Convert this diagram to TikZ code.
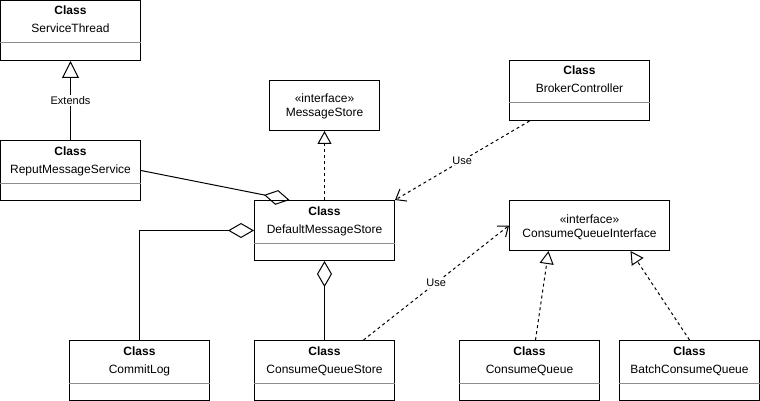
\documentclass[tikz,border=0pt]{standalone}
\usepackage{fontspec}
\setmainfont{Liberation Sans}
\usetikzlibrary{arrows.meta}
\tikzset{
	cls/.style={draw, line width=1pt, minimum width=140pt, minimum height=60pt, inner sep=0pt},
	iface/.style={draw, line width=1pt, minimum width=#1, minimum height=50pt, inner sep=0pt},
	iface/.default=110pt,
	txt/.style={anchor=base, inner sep=0pt, font=\fontsize{12pt}{14pt}\selectfont},
	sep/.style={black!45, line width=1pt},
	lbl/.style={fill=white, inner sep=1pt, font=\fontsize{11pt}{13pt}\selectfont},
	gen/.style={line width=1pt, -{Triangle[open, length=17pt, width=17pt]}},
	real/.style={line width=1pt, dash pattern=on 3pt off 3pt, -{Triangle[open, length=13pt, width=14pt]}},
	use/.style={line width=1pt, dash pattern=on 3pt off 3pt, -{Straight Barb[length=9pt, width=14pt]}},
	agg/.style={line width=1pt, {Diamond[open, length=26pt, width=15pt]}-},
}
\begin{document}
\begin{tikzpicture}[x=1pt, y=-1pt]
	\useasboundingbox (-0.5,-0.5) rectangle (759.5,400.5);
	% classes
	\foreach \n/\x/\y/\t in {st/70/30/ServiceThread, rms/70/170/ReputMessageService,
		bc/579/90/BrokerController, dms/324/230/DefaultMessageStore, cl/139/370/CommitLog,
		cqs/324/370/ConsumeQueueStore, cq/529/370/ConsumeQueue, bcq/689/370/BatchConsumeQueue} {
		\node[cls] (\n) at (\x,\y) {};
		\node[txt] (\n-hd) at ([yshift=-15pt]\n.north) {\textbf{Class}};
		\node[txt] (\n-nm) at ([yshift=-33pt]\n.north) {\t};
		\draw[sep] ([yshift=-43pt]\n.north west) -- ([yshift=-43pt]\n.north east);
	}
	% interfaces
	\node[iface] (ms) at (324,105) {};
	\node[txt] (ms-st) at ([yshift=-23pt]ms.north) {«interface»};
	\node[txt] (ms-nm) at ([yshift=-37pt]ms.north) {MessageStore};
	\node[iface=160pt] (cqi) at (589,225) {};
	\node[txt] (cqi-st) at ([yshift=-23pt]cqi.north) {«interface»};
	\node[txt] (cqi-nm) at ([yshift=-37pt]cqi.north) {ConsumeQueueInterface};
	% relations
	\draw[gen] (rms.north) -- node[lbl] (ext) {Extends} (st.south);
	\draw[real] (dms.north) -- (ms.south);
	\draw[agg] ([xshift=-35pt]dms.north) -- (rms.east);
	\draw[agg] (dms.west) -| (cl.north);
	\draw[agg] (dms.south) -- (cqs.north);
	\draw[use] ([xshift=-50pt]bc.south) -- node[lbl] (use1) {Use} (dms.north east);
	\draw[use] ([xshift=39pt]cqs.north) -- node[lbl] (use2) {Use} (cqi.west);
	\draw[real] ([xshift=6pt]cq.north) -- ([xshift=-41pt]cqi.south);
	\draw[real] (bcq.north) -- ([xshift=41pt]cqi.south);
\end{tikzpicture}
\end{document}
